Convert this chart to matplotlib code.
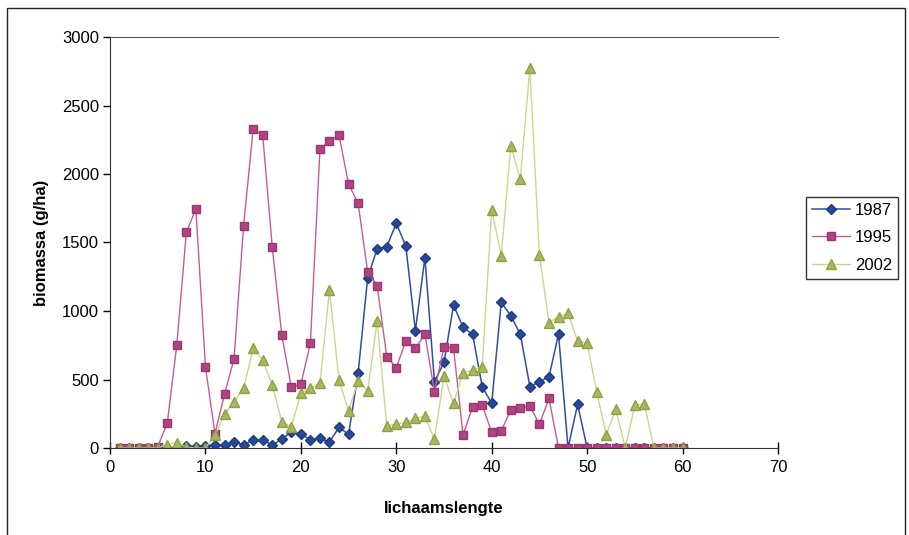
import numpy as np
import matplotlib.pyplot as plt
from matplotlib.patches import Rectangle

plt.rcParams['font.family'] = ['Liberation Sans', 'DejaVu Sans']

lengte = np.arange(1, 61)

# biomassa per lengteklasse (g/ha)
b1987 = [0, 0, 0, 0, 0, 0, 0, 15, 10, 15,
         22, 22, 46, 22, 58, 58, 22, 65, 115, 105,
         58, 70, 45, 150, 100, 545, 1243, 1455, 1470, 1640,
         1474, 856, 1389, 484, 625, 1044, 881, 830, 448, 326,
         1063, 966, 830, 448, 484, 520, 830, 0, 319, 0,
         0, 0, 0, 0, 0, 0, 0, 0, 0, 0]
b1995 = [0, 0, 0, 0, 10, 180, 752, 1574, 1745, 593,
         105, 394, 650, 1623, 2326, 2285, 1470, 825, 443, 465,
         764, 2180, 2243, 2282, 1927, 1786, 1287, 1185, 667, 586,
         781, 727, 830, 411, 740, 727, 95, 302, 314, 114,
         126, 277, 294, 307, 173, 362, 0, 0, 0, 0,
         0, 0, 0, 0, 0, 0, 0, 0, 0, 0]
b2002 = [0, 0, 0, 0, 0, 25, 40, 5, 0, 0,
         95, 246, 338, 436, 727, 642, 460, 192, 155, 399,
         436, 472, 1153, 496, 272, 490, 418, 927, 161, 175,
         187, 216, 233, 63, 525, 326, 550, 569, 593, 1737,
         1404, 2204, 1966, 2776, 1406, 915, 959, 983, 783, 764,
         411, 95, 282, 0, 314, 321, 0, 0, 0, 0]

fig = plt.figure(figsize=(9.09, 5.35), dpi=100)
ax = fig.add_axes([110 / 909, 87 / 535, 668 / 909, 411 / 535])

ax.plot(lengte, b1987, '-', color='#2f4f9c', lw=1.1, marker='D', ms=5.5,
        mfc='#274896', mec='#1f3c85', label='1987')
ax.plot(lengte, b1995, '-', color='#c45c95', lw=1.0, marker='s', ms=5.5,
        mfc='#b04482', mec='#9a3670', label='1995')
ax.plot(lengte, b2002, '-', color='#c9d690', lw=1.0, marker='^', ms=6.5,
        mfc='#a6b95a', mec='#8fa144', label='2002')

ax.set_xlim(0, 70)
ax.set_ylim(0, 3000)
ax.set_xticks(range(0, 71, 10))
ax.set_yticks(range(0, 3001, 500))
ax.tick_params(axis='x', direction='inout', length=9, width=1, labelsize=12, pad=4)
ax.tick_params(axis='y', direction='out', length=5, width=1, labelsize=12, pad=3)

ax.spines['right'].set_visible(False)
ax.spines['top'].set_color('#555555')
ax.spines['left'].set_color('#333333')
ax.spines['bottom'].set_color('#333333')

ax.set_xlabel('lichaamslengte', fontsize=12, fontweight='bold', labelpad=19)
ax.set_ylabel('biomassa (g/ha)', fontsize=12, fontweight='bold', labelpad=9)

leg = fig.legend(loc='upper left', bbox_to_anchor=(806 / 909, 1 - 197 / 535),
                 bbox_transform=fig.transFigure, fontsize=12, frameon=True,
                 fancybox=False, edgecolor='black', borderaxespad=0,
                 handlelength=2.3, handletextpad=0.3, borderpad=0.35,
                 labelspacing=0.75)
leg.get_frame().set_linewidth(1.0)

# chart frame
fig.patches.append(Rectangle((7 / 909, -0.05), 898 / 909, 1.05 - 8 / 535,
                             transform=fig.transFigure, fill=False,
                             edgecolor='#222222', lw=1.0))

fig.savefig('out.png', dpi=100)
